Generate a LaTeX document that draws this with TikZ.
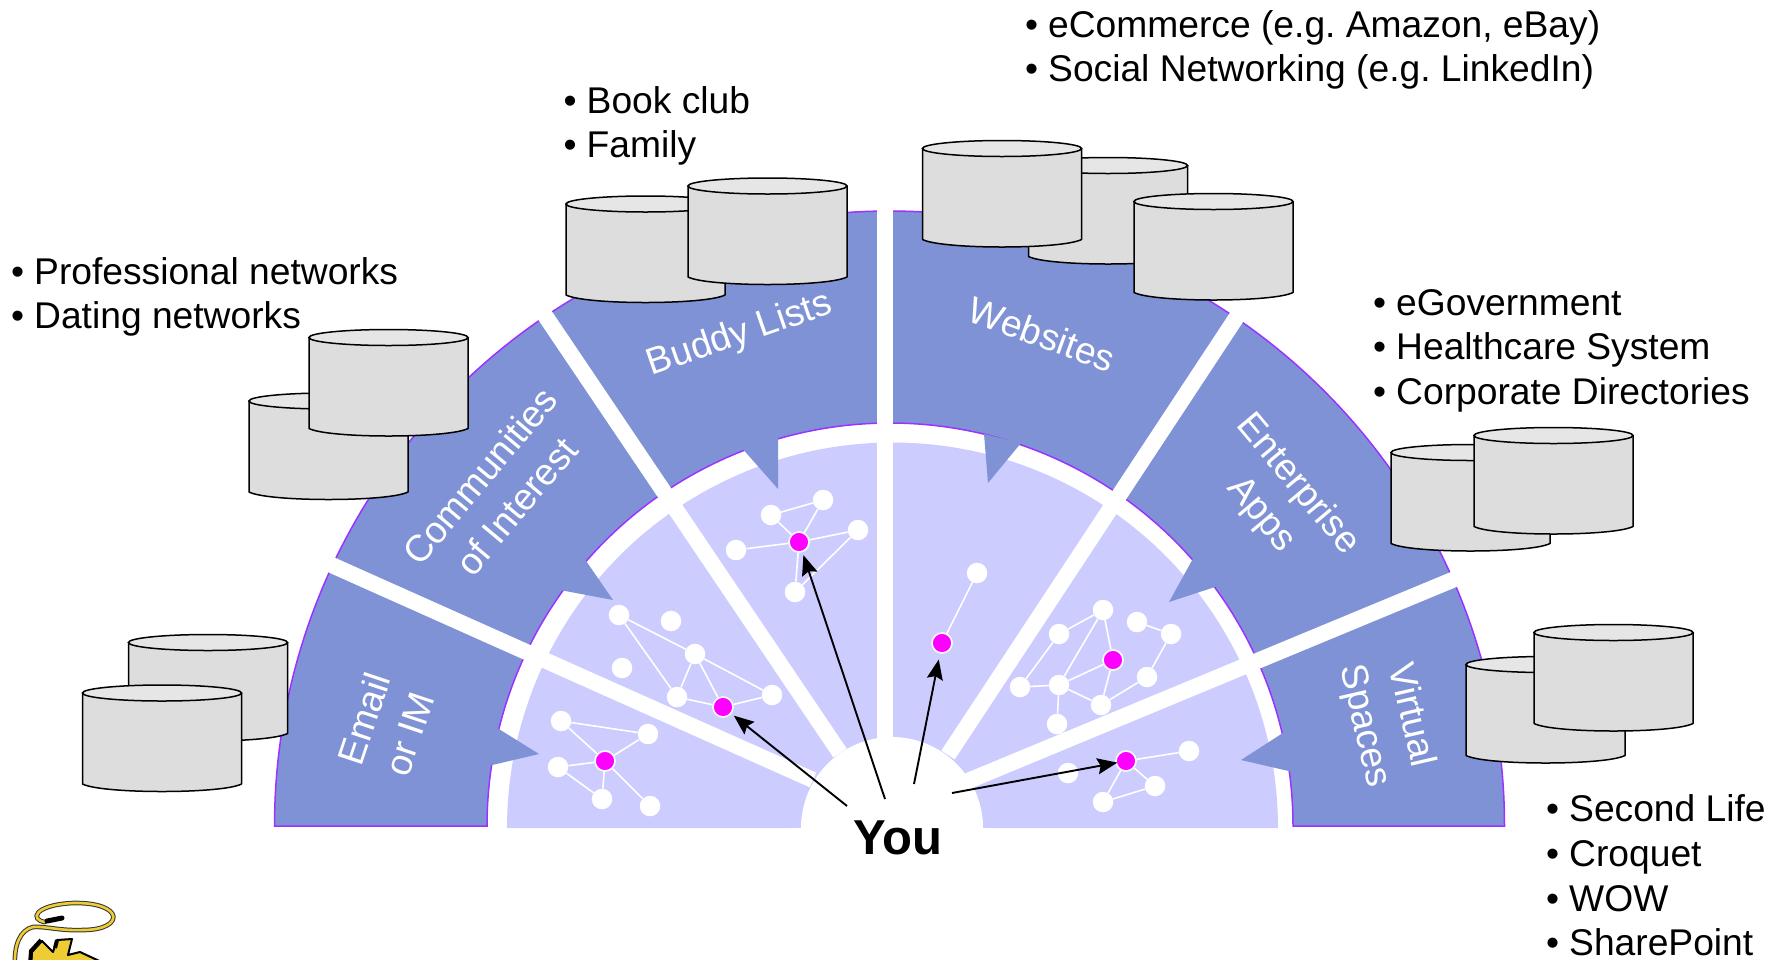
\documentclass[tikz,border=0pt]{standalone}
\usepackage{fontspec}
\setmainfont{Liberation Sans}
\usetikzlibrary{arrows.meta}
\definecolor{fanblue}{HTML}{8092D6}
\definecolor{fanedge}{HTML}{9933FF}
\definecolor{fanlight}{HTML}{CCCCFF}
\definecolor{cylbody}{HTML}{DDDDDD}
\definecolor{cyltop}{HTML}{E6E6E6}
\definecolor{logoyel}{HTML}{EECC33}
\definecolor{youpink}{HTML}{FF00FF}
\tikzset{
  netnode/.style={circle,fill=white,inner sep=0pt,minimum size=20.5pt},
  youdot/.style={circle,fill=youpink,draw=white,line width=1.6pt,inner sep=0pt,minimum size=20pt},
  netlink/.style={draw=white,line width=1.6pt},
  spoke/.style={draw=white,line width=16pt},
  fantab/.style={fill=fanblue},
  wedgelabel/.style={text=white,font=\fontsize{37.3}{47.5}\selectfont,align=center,inner sep=0pt},
  listtext/.style={anchor=north west,align=left,inner sep=0pt,font=\fontsize{37.2}{44.7}\selectfont},
  youarrow/.style={-{Stealth[length=20pt,width=16pt,inset=3pt]},line width=1.9pt,black,shorten >=3pt},
  pics/datacyl/.style={code={
    \path[fill=cylbody,draw=black,line width=1.5pt,line join=round]
      (-79.5,0) -- (-79.5,91) .. controls (-60,101) and (60,101) .. (79.5,91) -- (79.5,0) -- cycle;
    \path[fill=cyltop,draw=black,line width=1.5pt] (0,0) ellipse [x radius=79.5pt,y radius=8pt];
  }}
}
\newcommand{\lbl}[1]{\makebox[23pt][l]{•}#1}
\frenchspacing
\begin{document}
\begin{tikzpicture}[x=1pt,y=-1pt]
\useasboundingbox (0,0) rectangle (1782,959);
\clip (0,0) rectangle (1782,959);

% fan
\path[fill=fanblue,draw=fanedge,line width=1.5pt]
  plot[domain=180:0,samples=181] ({889.5+615*cos(\x)},{826-615*sin(\x)})
  -- plot[domain=0:180,samples=181] ({890+403*cos(\x)},{826-403*sin(\x)}) -- cycle;
\fill[fanlight] plot[domain=180:0,samples=181] ({892.5+385.5*cos(\x)},{828-385.5*sin(\x)}) -- cycle;

% spokes
\coordinate (s1a) at (326,562.5); \coordinate (s1b) at (813,780);
\coordinate (s2a) at (542,311);   \coordinate (s2b) at (840,753);
\coordinate (s3a) at (885,195);   \coordinate (s3b) at (885,760);
\coordinate (s4a) at (1240,312);  \coordinate (s4b) at (948,755);
\coordinate (s5a) at (1462,576);  \coordinate (s5b) at (963,783);
\foreach \s in {1,2,3,4,5} \draw[spoke] (s\s a) -- (s\s b);
\fill[white] plot[domain=180:0,samples=91] ({892+91*cos(\x)},{828-91*sin(\x)}) -- cycle;
\fill[white] (790,828) rectangle (990,832);

% tabs
\fill[fantab] (494,726) -- (539,754) -- (488,766) -- cycle;
\fill[fantab] (584,558) -- (613,600) -- (560,590) -- cycle;
\fill[fantab] (741,447) -- (778,489) -- (778,434) -- cycle;
\fill[fantab] (984,434) -- (988,483) -- (1021,443) -- cycle;
\fill[fantab] (1195,555) -- (1169,602) -- (1218,586) -- cycle;
\fill[fantab] (1286,731) -- (1241,760) -- (1293,772) -- cycle;

% wedge labels
\node[wedgelabel,rotate=71.5] (lemail) at (386.5,726.5) {Email\\or IM};
\node[wedgelabel,rotate=50] (lcomm) at (498,491) {Communities\\of Interest};
\node[wedgelabel,rotate=19] (lbuddy) at (740,335) {Buddy Lists};
\node[wedgelabel,rotate=-20] (lweb) at (1042,334) {Websites};
\node[wedgelabel,rotate=-50] (lent) at (1279,500) {Enterprise\\Apps};
\node[wedgelabel,rotate=-77] (lvirt) at (1387,721) {Virtual\\Spaces};

% data stores
\pic at (208,642.5) {datacyl};
\pic at (162,693) {datacyl};
\pic at (328.5,401) {datacyl};
\pic at (388.5,337.5) {datacyl};
\pic at (645.5,204) {datacyl};
\pic at (767.5,186) {datacyl};
\pic at (1108,165.5) {datacyl};
\pic at (1002,148.5) {datacyl};
\pic at (1213.5,201.5) {datacyl};
\pic at (1470.5,452.5) {datacyl};
\pic at (1553.5,435.5) {datacyl};
\pic at (1545.5,664.5) {datacyl};
\pic at (1613.5,632.5) {datacyl};

% Email network
\node[netnode] (ea) at (561,721) {};
\node[netnode] (eb) at (648,734) {};
\node[netnode] (ec) at (558,767) {};
\node[youdot] (em) at (605,761) {};
\node[netnode] (ed) at (602,799) {};
\node[netnode] (ee) at (650,806) {};
\path[netlink] (ea)--(eb) (ea)--(em) (eb)--(em) (ec)--(em) (ec)--(ed) (em)--(ed) (em)--(ee);

% Communities network
\node[netnode] (ca) at (619,615) {};
\node[netnode] (cb) at (671,621) {};
\node[netnode] (cc) at (622,668) {};
\node[netnode] (cd) at (695,654) {};
\node[netnode] (ce) at (677,697) {};
\node[youdot] (cm) at (723,707) {};
\node[netnode] (cf) at (772,695) {};
\path[netlink] (ca)--(cd) (ca)--(ce) (cd)--(ce) (cd)--(cm) (cd)--(cf) (ce)--(cm) (cm)--(cf);

% Buddy network
\node[netnode] (ba) at (823,500) {};
\node[netnode] (bb) at (771,515) {};
\node[youdot] (bm) at (799,542) {};
\node[netnode] (bc) at (858,530) {};
\node[netnode] (bd) at (736,550) {};
\node[netnode] (be) at (795,592) {};
\path[netlink] (ba)--(bb) (bb)--(bm) (ba)--(bm) (bm)--(bc) (bm)--(bd) (bm)--(be) (bc)--(be);

% Websites network
\node[netnode] (wa) at (977,573) {};
\node[youdot] (wm) at (942,643) {};
\path[netlink] (wa)--(wm);

% Enterprise network
\node[netnode] (pa) at (1103,610) {};
\node[netnode] (pb) at (1059,634) {};
\node[netnode] (pc) at (1137,622) {};
\node[netnode] (pd) at (1171,634) {};
\node[youdot] (pm) at (1113,660) {};
\node[netnode] (pe) at (1147,677) {};
\node[netnode] (pf) at (1020,687) {};
\node[netnode] (pg) at (1059,685) {};
\node[netnode] (ph) at (1101,705) {};
\node[netnode] (pi) at (1057,724) {};
\path[netlink] (pa)--(pb) (pb)--(pf) (pf)--(pg) (pa)--(pg) (pa)--(pm) (pg)--(pm) (pm)--(ph) (pg)--(ph) (ph)--(pe) (pe)--(pd) (pc)--(pd) (pg)--(pi);

% Virtual network
\node[youdot] (vm) at (1126,761) {};
\node[netnode] (va) at (1189,751) {};
\node[netnode] (vb) at (1155,786) {};
\node[netnode] (vc) at (1103,802) {};
\node[netnode] (vd) at (1068,773) {};
\path[netlink] (vm)--(va) (vm)--(vb) (vm)--(vc) (vb)--(vc);

% You
\node[font=\bfseries\fontsize{49}{49}\selectfont,inner sep=0pt] (you) at (898,838) {You};
\coordinate (y1) at (885,799);
\coordinate (y2) at (847,806);
\coordinate (y3) at (914,784);
\coordinate (y4) at (952,793);
\draw[youarrow] (y1) -- (bm);
\draw[youarrow] (y2) -- (cm);
\draw[youarrow,shorten >=6pt] (y3) -- (wm);
\draw[youarrow,shorten >=-2pt] (y4) -- (vm);

% lists
\node[listtext] (tweb) at (1025,10) {\lbl{eCommerce (e.g. Amazon, eBay)}\\\lbl{Social Networking (e.g. LinkedIn)}};
\node[listtext] (tbud) at (563.5,86) {\lbl{Book club}\\\lbl{Family}};
\node[listtext] (tcom) at (11,257) {\lbl{Professional networks}\\\lbl{Dating networks}};
\node[listtext] (tent) at (1373,289) {\lbl{eGovernment}\\\lbl{Healthcare System}\\\lbl{Corporate Directories}};
\node[listtext] (tvir) at (1546,794.5) {\lbl{Second Life}\\\lbl{Croquet}\\\lbl{WOW}\\\lbl{SharePoint}};

% logo (cut off by the picture edge)
\path[fill=logoyel,draw=black,line width=2pt,line join=round]
  (31,965) -- (32,952) -- (42,941) -- (53,952) -- (57,940) -- (72,939) -- (68,955) -- (80,952) -- (108,965) -- cycle;
\draw[black,line width=4pt] (30,965) -- (31,951) -- (41,940);
\draw[black,line width=4pt] (57,940) -- (55,948);
\draw[black!80,line width=4.6pt,line cap=round]
  (45,922) .. controls (30,920) and (33,905) .. (73,903) .. controls (125,902) and (125,930) .. (83,930)
  .. controls (60,931) and (45,926) .. (33,927) .. controls (20,930) and (14,945) .. (15,965);
\draw[logoyel,line width=2.6pt,line cap=round]
  (45,922) .. controls (30,920) and (33,905) .. (73,903) .. controls (125,902) and (125,930) .. (83,930)
  .. controls (60,931) and (45,926) .. (33,927) .. controls (20,930) and (14,945) .. (15,965);
\draw[black,line width=5pt,line cap=round] (47,921) -- (62,918);
\end{tikzpicture}
\end{document}
